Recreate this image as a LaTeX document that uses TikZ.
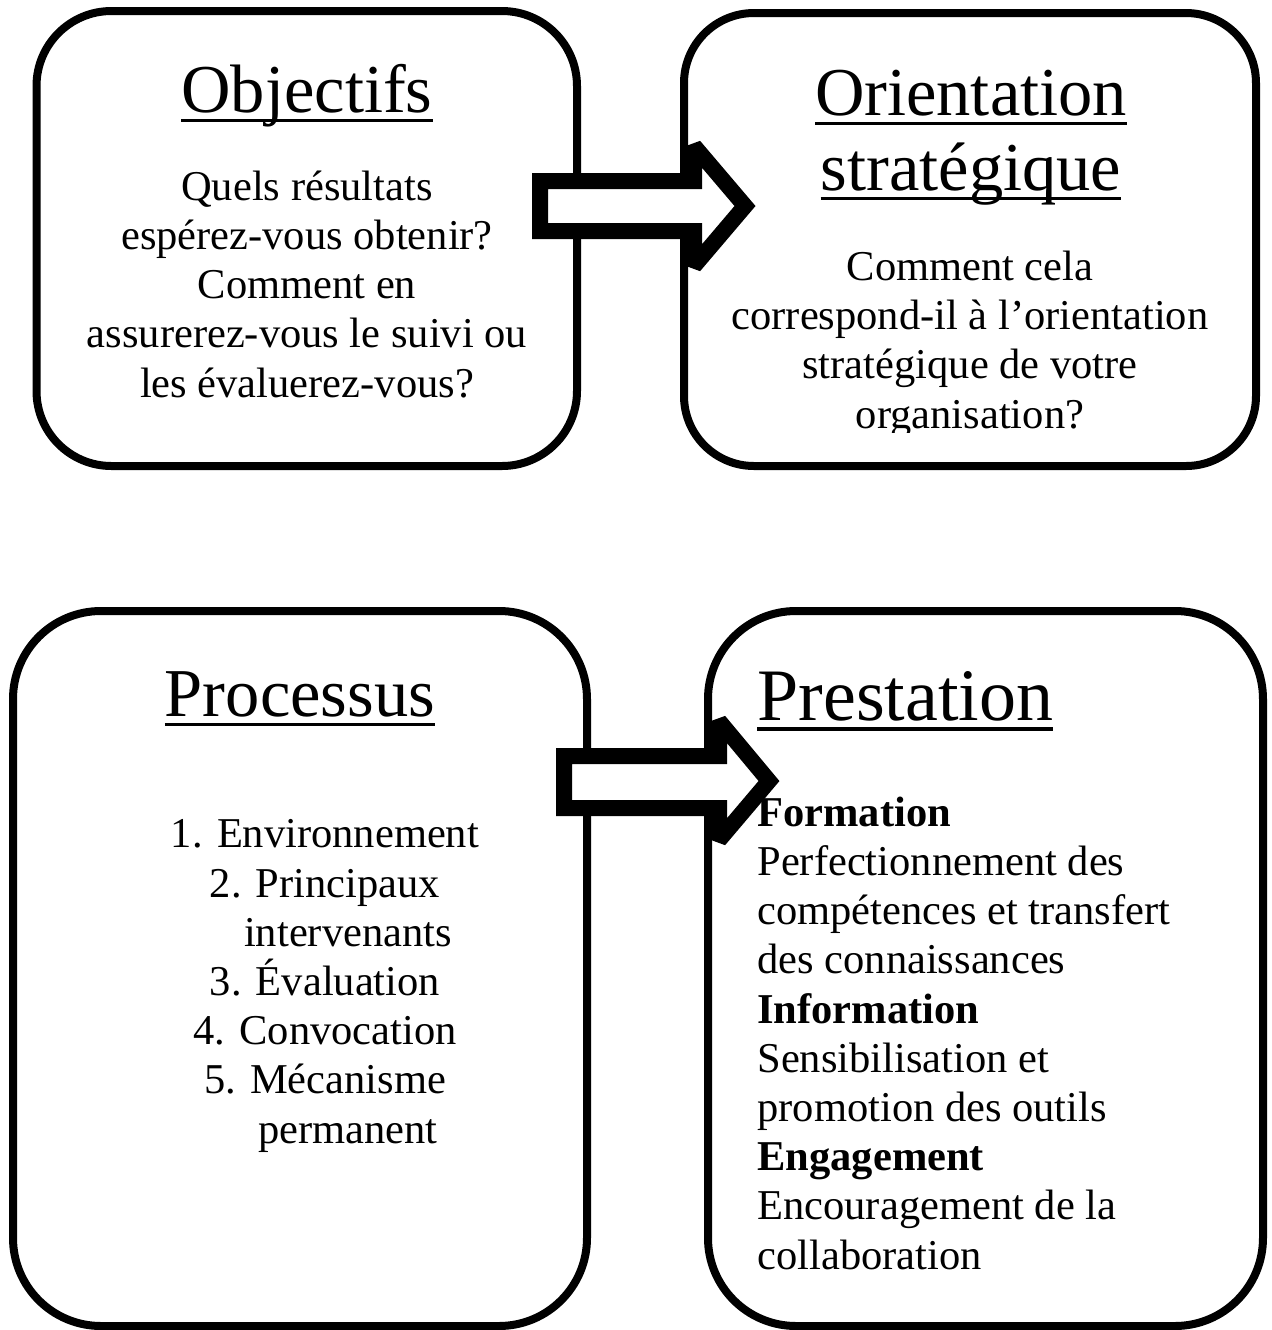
\documentclass[tikz,border=0pt]{standalone}
\usepackage{fontspec}
\setmainfont{Liberation Serif}
\usetikzlibrary{positioning}
\newcommand{\ttlline}[1]{\setbox0=\hbox{#1}\rlap{\rule[-0.15em]{\wd0}{0.05em}}\box0}
\tikzset{
  panel/.style={draw,line width=4pt,rounded corners=#1,inner sep=0pt},
  panel/.default=40pt,
  ttl/.style={font=\fontsize{34.25}{37.5}\selectfont,inner sep=0pt,align=center,anchor=base},
  txt/.style={font=\fontsize{21.25}{24.6}\selectfont,inner sep=0pt,align=center,anchor=base},
  blockarrow/.style={draw,fill=white,line width=8pt,miter limit=2},
}
\begin{document}
\begin{tikzpicture}[x=0.5pt,y=-0.5pt]
  \useasboundingbox (0,0) rectangle (1272,1330);
  % the four panels
  \node[panel=37.5pt,minimum width=270.25pt,minimum height=227.5pt] (obj) at (306.75,238.5) {};
  \node[panel=35pt,minimum width=286pt,minimum height=226.5pt] (ori) at (970,239.5) {};
  \node[panel=44pt,minimum width=287pt,minimum height=357.5pt] (pro) at (300,968.5) {};
  \node[panel=44pt,minimum width=277.5pt,minimum height=357.5pt] (pre) at (985.5,968.5) {};
  % top row (base = last line)
  \node[ttl] (objT) at (307,112) {\ttlline{Objectifs}};
  \node[txt] (objB) at (307,397) {Quels résultats\\espérez-vous obtenir?\\Comment en\\assurerez-vous le suivi ou\\les évaluerez-vous?};
  \node[ttl] (oriT) at (971,190) {\ttlline{Orientation}\\\ttlline{stratégique}};
  \begin{scope}
    \clip (684,13) rectangle (1256,432);
    \node[txt] (oriB) at (970,428) {Comment cela\\correspond-il à l’orientation\\stratégique de votre\\organisation?};
  \end{scope}
  % bottom row
  \node[ttl] (proT) at (300,716) {\ttlline{Processus}};
  \node[txt] (proL) at (325,1143) {1. Environnement\\2. Principaux\\\phantom{2. }intervenants\\3. Évaluation\\4. Convocation\\5. Mécanisme\\\phantom{5. }permanent};
  \node[ttl,font=\fontsize{37}{40}\selectfont,anchor=base west] (preT) at (757,720) {\ttlline{Prestation}};
  \node[txt,align=left,anchor=base west] (preB) at (757,1269) {\textbf{Formation}\\Perfectionnement des\\compétences et transfert\\des connaissances\\\textbf{Information}\\Sensibilisation et\\promotion des outils\\\textbf{Engagement}\\Encouragement de la\\collaboration};
  % block arrows
  \draw[blockarrow] (540,181) -- (694,181) -- (694,146) -- (745,206) -- (694,266) -- (694,231) -- (540,231) -- cycle;
  \draw[blockarrow] (564,756) -- (719,756) -- (719,721) -- (769,781) -- (719,840) -- (719,808) -- (564,808) -- cycle;
\end{tikzpicture}
\end{document}
